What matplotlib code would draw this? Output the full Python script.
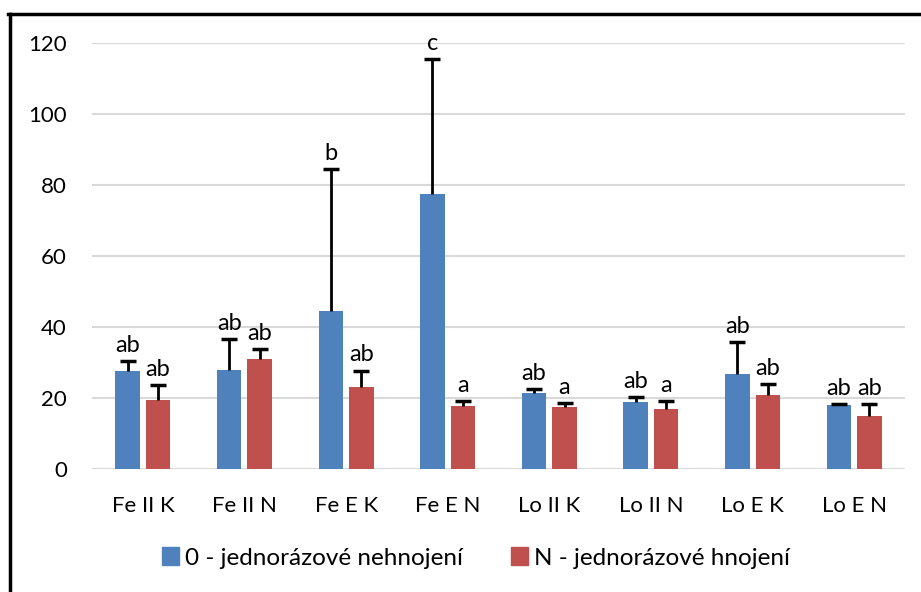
import numpy as np
import matplotlib.pyplot as plt
from matplotlib.lines import Line2D

categories = ["Fe II K", "Fe II N", "Fe E K", "Fe E N",
              "Lo II K", "Lo II N", "Lo E K", "Lo E N"]
series_names = ["0 - jednorázové nehnojení", "N - jednorázové hnojení"]

zero_mean = [27.6, 27.9, 44.5, 77.6, 21.3, 18.8, 26.7, 17.9]
zero_err = [2.8, 8.7, 40.1, 38.0, 1.1, 1.3, 9.0, 0.3]
zero_letters = ["ab", "ab", "b", "c", "ab", "ab", "ab", "ab"]

n_mean = [19.4, 31.0, 23.1, 17.7, 17.3, 16.9, 20.7, 14.9]
n_err = [4.2, 2.7, 4.6, 1.3, 1.3, 2.2, 3.1, 3.4]
n_letters = ["ab", "ab", "ab", "a", "a", "a", "ab", "ab"]

yticks = [0, 20, 40, 60, 80, 100, 120]

BLUE = "#4F81BD"
RED = "#C0504D"
FONT = ["Lato", "DejaVu Sans"]
plt.rcParams['font.family'] = FONT


def main():
    fig = plt.figure(figsize=(9.21, 5.92), dpi=100)
    ax = fig.add_axes([92 / 921, 123.3 / 592, 813 / 921, 425.4 / 592])

    x = np.arange(len(categories))
    width = 0.24
    offs = 0.15

    for xs, mean, err, letters, color in [
        (x - offs, zero_mean, zero_err, zero_letters, BLUE),
        (x + offs, n_mean, n_err, n_letters, RED),
    ]:
        mean = np.array(mean)
        top = mean + np.array(err)
        ax.bar(xs, mean, width, color=color, zorder=2)
        # upper-only error bars, no cap at the bar end
        ax.vlines(xs, mean, top, color='black', lw=2, zorder=3)
        ax.plot(xs, top, ls='none', marker='_', ms=11, mew=2.5,
                color='black', zorder=3)
        for xi, t, lab in zip(xs, top, letters):
            ax.annotate(lab, (xi, t), xytext=(0, 6.5),
                        textcoords='offset points', ha='center',
                        va='baseline', fontsize=17)

    ax.set_xlim(-0.5, len(categories) - 0.5)
    ax.set_ylim(0, 120)
    ax.set_yticks(yticks)
    ax.set_xticks(x)
    ax.set_xticklabels(categories, fontsize=16)
    ax.tick_params(axis='y', labelsize=16, length=0, pad=18)
    ax.tick_params(axis='x', length=0, pad=20)
    ax.grid(axis='y', color='#D9D9D9', lw=1.5, zorder=0)
    ax.set_axisbelow(True)
    for s in ax.spines.values():
        s.set_visible(False)

    handles = [plt.Rectangle((0, 0), 1, 1, color=BLUE),
               plt.Rectangle((0, 0), 1, 1, color=RED)]
    fig.legend(handles, series_names, loc='center',
               bbox_to_anchor=(476 / 921, 1 - 558 / 592), ncol=2,
               frameon=False, fontsize=17.5, handlelength=0.7,
               handleheight=0.7, handletextpad=0.25, columnspacing=2.0)

    # black frame on left and top edges
    fig.add_artist(Line2D([9.5 / 921, 9.5 / 921], [0, 1 - 13.5 / 592],
                          color='black', lw=2.5, transform=fig.transFigure))
    fig.add_artist(Line2D([8 / 921, 1], [1 - 13.5 / 592, 1 - 13.5 / 592],
                          color='black', lw=2.5, transform=fig.transFigure))

    fig.savefig("out.png", dpi=100)


if __name__ == "__main__":
    main()
